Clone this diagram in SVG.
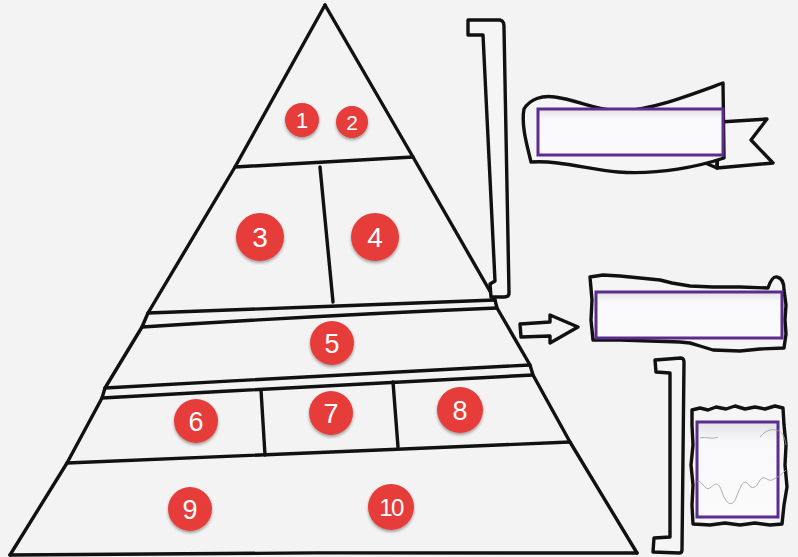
<svg xmlns="http://www.w3.org/2000/svg" width="798" height="557" viewBox="0 0 798 557">
<defs>
<filter id="sh" x="-30%" y="-30%" width="160%" height="170%">
<feDropShadow dx="0" dy="2" stdDeviation="1.6" flood-color="#000" flood-opacity="0.35"/>
</filter>
<linearGradient id="pf" x1="0" y1="0" x2="0" y2="1">
<stop offset="0" stop-color="#e2e2e4"/>
<stop offset="0.2" stop-color="#f8f8fa"/>
<stop offset="1" stop-color="#fbfbfc"/>
</linearGradient>
<style>
.ln{fill:none;stroke:#111;stroke-width:3.4;stroke-linecap:round;stroke-linejoin:round}
.sk{fill:#f5f5f5;stroke:#111;stroke-width:3.4;stroke-linecap:round;stroke-linejoin:round}
.pr{fill:url(#pf);stroke:#5b2d8e;stroke-width:3}
.dot{fill:#e63c3a;filter:url(#sh)}
.num{fill:#fff;font-family:"Liberation Sans",Arial,sans-serif;text-anchor:middle}
.wv{fill:none;stroke:#9a9a9a;stroke-width:0.8}
</style>
</defs>
<rect width="798" height="557" fill="#f3f3f3"/>

<g id="pyramid">
<path class="ln" d="M325,5 L235,167 L148,313 L142,327 L105,388 L102,398 L67,463 L10,555"/>
<path class="ln" d="M325,5 L413,157 L495,300 L497,308 L530,365 L533,375 L570,442 L637,553"/>
<path class="ln" d="M235,167 L413,157"/>
<path class="ln" d="M148,313 C250,309 400,304 495,300"/>
<path class="ln" d="M142,327 C250,320 400,312 497,308"/>
<path class="ln" d="M105,388 C250,380 420,370 530,365"/>
<path class="ln" d="M102,398 C250,390 420,380 533,375"/>
<path class="ln" d="M67,463 C250,455 420,447 570,442"/>
<path class="ln" d="M10,555 C200,553 450,552 637,553"/>
<path class="ln" d="M320,167 L333,302"/>
<path class="ln" d="M261,390 L265,455"/>
<path class="ln" d="M393,382 L398,447"/>
</g>

<g id="badge1"><circle class="dot" cx="302" cy="120" r="17"/><text class="num" x="302" y="128" font-size="22">1</text></g>
<g id="badge2"><circle class="dot" cx="352" cy="122" r="16"/><text class="num" x="352" y="130" font-size="21">2</text></g>
<g id="badge3"><circle class="dot" cx="260" cy="237" r="24"/><text class="num" x="260" y="247" font-size="28">3</text></g>
<g id="badge4"><circle class="dot" cx="375" cy="237" r="24"/><text class="num" x="375" y="247" font-size="28">4</text></g>
<g id="badge5"><circle class="dot" cx="332" cy="343" r="22"/><text class="num" x="332" y="353" font-size="27">5</text></g>
<g id="badge6"><circle class="dot" cx="196" cy="421" r="22"/><text class="num" x="196" y="431" font-size="27">6</text></g>
<g id="badge7"><circle class="dot" cx="331" cy="413" r="22"/><text class="num" x="331" y="423" font-size="27">7</text></g>
<g id="badge8"><circle class="dot" cx="460" cy="410" r="23"/><text class="num" x="460" y="420" font-size="27">8</text></g>
<g id="badge9"><circle class="dot" cx="190" cy="509" r="22"/><text class="num" x="190" y="519" font-size="27">9</text></g>
<g id="badge10"><circle class="dot" cx="391" cy="507" r="23"/><text class="num" x="391" y="516" font-size="24" letter-spacing="-1.5">10</text></g>

<g id="bracket1">
<path class="sk" d="M468,20 L500,20 C504,21 504,24 504,28 L509,293 C509,296 507,297 504,297 L491,297 L490,284 L495,281 L483,35 L468,35 Z"/>
</g>

<g id="banner">
<path class="sk" d="M720,122 L767,119 L751,140 L773,163 L717,168 Z"/>
<path class="ln" d="M703,162 L717,168 L717,155"/>
<path class="sk" d="M524,109 C530,99 542,95 555,97 C578,100 596,111 620,111 C652,110 690,95 723,83 L724,158 C700,166 660,175 618,172 C590,170 560,160 531,162 C527,145 521,125 524,109 Z"/>
<rect class="pr" x="538" y="109" width="185" height="46"/>
</g>

<g id="connectors">
<path class="ln" d="M520,324 L550,322 L550,315 L578,327 L550,343 L550,336 L521,337 Z" fill="#f5f5f5"/>
</g>

<g id="box2">
<path class="sk" stroke-width="4" d="M590,277 L603,275 L620,276 L640,278 L660,280 L672,283 L690,286 L713,287 L740,287 L768,288 C770,282 773,276 777,277 C782,278 784,284 784,290 L786,305 L785,320 L786,334 L784,348 L760,349 L740,351 L713,350 L700,346 L690,343 L680,342 L650,341 L620,340 L593,340 L591,320 L592,300 Z"/>
<rect class="pr" x="596" y="292" width="186" height="46"/>
</g>

<g id="bracket2">
<path class="sk" d="M655,360 L681,358 C683,358 684,360 684,362 L682,550 C682,552 681,553 679,553 L653,552 L654,538 L670,537 L670,373 L656,372 Z"/>
</g>

<g id="box3">
<path class="sk" stroke-width="4" d="M692,410 L700,408 L708,410 L716,407 L726,409 L735,406 L745,409 L755,407 L765,409 L775,406 L783,408 L784,425 L786,445 L785,465 L787,487 L784,505 L782,524 L770,525 L755,523 L740,525 L725,523 L710,525 L693,524 L692,505 L693,485 L691,465 L693,445 L692,425 Z"/>
<rect class="pr" x="697" y="422" width="81" height="95"/>
<path class="wv" d="M700,438 C706,436 712,440 718,437"/>
<path class="wv" d="M760,437 C766,430 772,428 779,431 C783,433 785,438 786,445"/>
<path class="wv" d="M697,482 C701,478 705,492 710,488 C715,484 718,480 722,492 C726,504 732,508 736,498 C740,488 743,478 748,484 C752,490 756,488 760,480 C764,474 768,482 772,480 C776,478 780,476 786,470"/>
</g>
</svg>
